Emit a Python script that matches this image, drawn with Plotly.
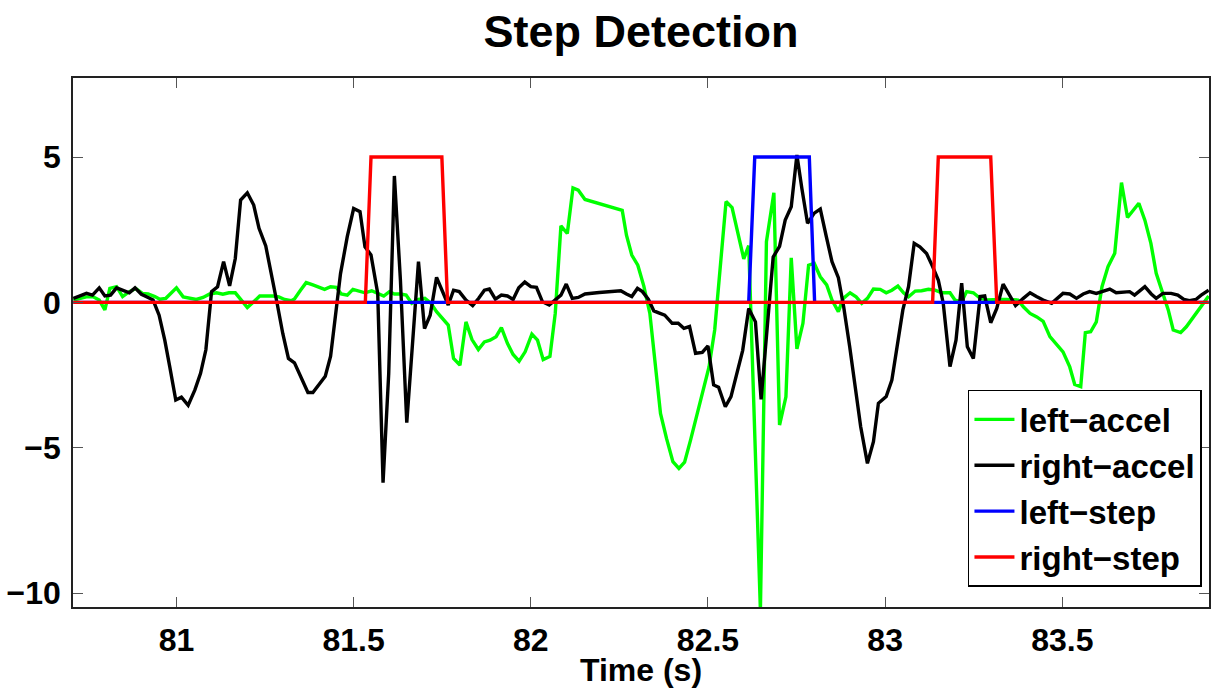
import plotly.graph_objects as go

# ---- data ----
t_left = [80.709, 80.728, 80.746, 80.765, 80.782, 80.798, 80.812, 80.831, 80.848, 80.867,
          80.885, 80.904, 80.920, 80.939, 80.953, 80.970, 80.986, 81.000, 81.019, 81.038,
          81.056, 81.075, 81.094, 81.113, 81.131, 81.148, 81.166, 81.183, 81.200, 81.218,
          81.235, 81.254, 81.272, 81.289, 81.305, 81.324, 81.333, 81.350, 81.366, 81.385,
          81.401, 81.418, 81.435, 81.451, 81.465, 81.482, 81.498, 81.517, 81.532, 81.551,
          81.568, 81.585, 81.601, 81.615, 81.632, 81.648, 81.664, 81.683, 81.701, 81.718,
          81.734, 81.751, 81.767, 81.782, 81.800, 81.817, 81.834, 81.852, 81.869, 81.885,
          81.902, 81.917, 81.934, 81.950, 81.967, 81.984, 82.003, 82.019, 82.035, 82.054,
          82.069, 82.085, 82.103, 82.119, 82.134, 82.153, 82.193, 82.230, 82.258, 82.270,
          82.285, 82.302, 82.319, 82.336, 82.350, 82.366, 82.383, 82.401, 82.418, 82.434,
          82.451, 82.468, 82.485, 82.503, 82.519, 82.535, 82.551, 82.568, 82.585, 82.601,
          82.615, 82.648, 82.665, 82.686, 82.702, 82.720, 82.735, 82.751, 82.768, 82.784,
          82.800, 82.817, 82.835, 82.850, 82.868, 82.882, 82.901, 82.918, 82.934, 82.950,
          82.967, 82.986, 83.003, 83.019, 83.036, 83.052, 83.066, 83.085, 83.103, 83.122,
          83.141, 83.160, 83.183, 83.197, 83.216, 83.230, 83.249, 83.268, 83.286, 83.305,
          83.324, 83.343, 83.361, 83.375, 83.390, 83.409, 83.428, 83.446, 83.465, 83.484,
          83.502, 83.521, 83.535, 83.552, 83.565, 83.580, 83.596, 83.612, 83.629, 83.648,
          83.667, 83.684, 83.700, 83.716, 83.733, 83.750, 83.765, 83.784, 83.799, 83.813,
          83.834, 83.850, 83.864, 83.881, 83.897, 83.913]
left_accel = [0.08, 0.14, 0.19, 0.19, 0.08, -0.26, 0.48, 0.54, 0.20, 0.37,
              0.48, 0.31, 0.29, 0.20, 0.11, 0.14, 0.33, 0.50, 0.19, 0.14,
              0.10, 0.17, 0.29, 0.33, 0.28, 0.33, 0.33, 0.08, -0.18, 0.02,
              0.22, 0.22, 0.22, 0.19, 0.10, 0.06, 0.12, 0.42, 0.68, 0.60,
              0.52, 0.45, 0.54, 0.52, 0.29, 0.25, 0.45, 0.37, 0.33, 0.40,
              0.31, 0.22, 0.37, 0.29, 0.29, 0.25, -0.03, 0.10, 0.14, -0.03,
              -0.32, -0.55, -0.78, -1.93, -2.16, -0.67, -1.28, -1.62, -1.36, -1.30,
              -1.18, -0.87, -1.41, -1.79, -2.02, -1.70, -1.09, -1.30, -1.97, -1.86,
              -0.38, 2.63, 2.37, 3.94, 3.86, 3.54, 3.40, 3.26, 3.17, 2.31,
              1.63, 1.28, 0.56, -0.38, -1.87, -3.82, -4.68, -5.48, -5.71, -5.50,
              -4.73, -3.93, -3.13, -2.22, -0.95, 1.23, 3.47, 3.26, 2.38, 1.50,
              1.95, -10.6, 2.09, 3.77, -4.22, -3.25, 1.53, -1.60, -0.72, 1.28,
              1.34, 0.88, 0.60, 0.08, -0.32, 0.14, 0.33, 0.19, -0.03, 0.14,
              0.46, 0.45, 0.33, 0.42, 0.56, 0.33, 0.19, 0.39, 0.40, 0.45,
              0.42, 0.33, 0.33, 0.08, 0.02, 0.37, 0.33, 0.14, 0.08, 0.10,
              0.10, 0.10, 0.10, 0.08, -0.15, -0.38, -0.50, -0.65, -1.18, -1.43,
              -1.70, -2.22, -2.82, -2.90, -1.04, -1.01, -0.67, 0.54, 1.23, 1.69,
              4.12, 2.92, 3.18, 3.41, 2.83, 2.03, 1.00, 0.31, -0.26, -0.95,
              -1.04, -0.84, -0.61, -0.32, -0.03, 0.22]

t_right = [80.709, 80.728, 80.746, 80.763, 80.782, 80.798, 80.814, 80.831, 80.848, 80.867,
           80.883, 80.901, 80.920, 80.934, 80.951, 80.967, 80.981, 80.998, 81.014, 81.033,
           81.052, 81.068, 81.083, 81.099, 81.116, 81.133, 81.150, 81.166, 81.181, 81.200,
           81.218, 81.233, 81.252, 81.268, 81.284, 81.300, 81.316, 81.333, 81.352, 81.371,
           81.385, 81.404, 81.420, 81.435, 81.448, 81.463, 81.482, 81.500, 81.518, 81.532,
           81.549, 81.568, 81.583, 81.599, 81.615, 81.632, 81.650, 81.667, 81.683, 81.700,
           81.716, 81.734, 81.751, 81.767, 81.782, 81.798, 81.817, 81.836, 81.853, 81.869,
           81.883, 81.900, 81.917, 81.934, 81.950, 81.966, 81.983, 82.000, 82.016, 82.033,
           82.052, 82.069, 82.085, 82.100, 82.117, 82.134, 82.153, 82.193, 82.230, 82.254,
           82.270, 82.285, 82.301, 82.315, 82.332, 82.347, 82.361, 82.378, 82.399, 82.416,
           82.432, 82.448, 82.465, 82.484, 82.500, 82.516, 82.530, 82.549, 82.565, 82.581,
           82.598, 82.615, 82.634, 82.650, 82.667, 82.684, 82.702, 82.718, 82.735, 82.751,
           82.765, 82.781, 82.800, 82.817, 82.834, 82.850, 82.868, 82.883, 82.900, 82.916,
           82.931, 82.950, 82.967, 82.981, 83.003, 83.019, 83.035, 83.050, 83.066, 83.082,
           83.098, 83.117, 83.134, 83.150, 83.164, 83.183, 83.200, 83.216, 83.232, 83.249,
           83.268, 83.281, 83.298, 83.315, 83.333, 83.352, 83.368, 83.390, 83.409, 83.427,
           83.446, 83.470, 83.486, 83.502, 83.521, 83.540, 83.559, 83.577, 83.596, 83.615,
           83.634, 83.652, 83.671, 83.690, 83.704, 83.719, 83.733, 83.751, 83.765, 83.784,
           83.807, 83.826, 83.843, 83.859, 83.877, 83.892, 83.906, 83.913]
right_accel = [0.14, 0.22, 0.31, 0.25, 0.50, 0.22, 0.25, 0.50, 0.42, 0.33,
               0.50, 0.28, 0.17, 0.08, -0.44, -1.30, -2.21, -3.36, -3.26, -3.54,
               -3.01, -2.44, -1.63, 0.37, 0.54, 1.40, 0.57, 1.51, 3.52, 3.77,
               3.35, 2.55, 1.94, 1.00, -0.03, -1.07, -1.93, -2.08, -2.56, -3.10,
               -3.10, -2.79, -2.54, -1.85, -0.49, 0.99, 2.26, 3.23, 3.12, 1.91,
               1.63, 0.31, -6.20, -2.45, 4.35, 0.77, -4.14, -1.30, 1.40, -0.90,
               -0.44, 0.86, 0.37, -0.09, 0.42, 0.37, 0.08, -0.11, 0.14, 0.42,
               0.46, 0.11, 0.25, 0.22, 0.10, 0.50, 0.70, 0.54, 0.52, 0.02,
               -0.09, 0.08, 0.25, 0.63, 0.14, 0.17, 0.29, 0.34, 0.39, 0.40,
               0.29, 0.20, 0.48, 0.37, 0.10, -0.29, -0.36, -0.44, -0.72, -0.72,
               -0.89, -0.83, -1.75, -1.72, -1.50, -2.84, -2.92, -3.59, -3.24, -2.44,
               -1.65, -0.21, -0.67, -3.34, -0.84, 1.56, 1.93, 2.83, 3.29, 5.07,
               3.92, 2.72, 3.07, 3.21, 2.26, 1.40, 0.85, -0.15, -1.53, -3.02,
               -4.28, -5.54, -4.79, -3.47, -3.24, -2.67, -1.41, -0.26, 0.54, 2.03,
               1.91, 1.68, 1.23, 0.77, -0.03, -2.21, -1.30, 0.66, -1.53, -1.93,
               0.20, 0.22, -0.70, -0.21, 0.63, 0.20, -0.11, 0.14, 0.33, 0.20,
               0.08, -0.03, 0.14, 0.31, 0.29, 0.14, 0.29, 0.37, 0.31, 0.37,
               0.46, 0.33, 0.34, 0.37, 0.25, 0.42, 0.54, 0.29, 0.14, 0.31,
               0.31, 0.25, 0.10, 0.06, 0.10, 0.25, 0.37, 0.42]

t_left_step = [80.709, 82.615, 82.632, 82.786, 82.801, 83.913]
left_step = [0, 0, 5, 5, 0, 0]

t_right_step = [80.709, 81.533, 81.549, 81.749, 81.765, 83.134, 83.150, 83.298, 83.315, 83.913]
right_step = [0, 0, 5, 5, 0, 0, 5, 5, 0, 0]

x_ticks = [81, 81.5, 82, 82.5, 83, 83.5]
x_tick_text = ["81", "81.5", "82", "82.5", "83", "83.5"]
y_ticks = [-10, -5, 0, 5]
y_tick_text = ["\u221210", "\u22125", "0", "5"]

FONT = "Liberation Sans, Arial, Helvetica, sans-serif"
LW = 3.4

fig = go.Figure()
fig.add_trace(go.Scatter(x=t_left, y=left_accel, mode="lines", name="left\u2212accel",
                         line=dict(color="#00FF00", width=LW)))
fig.add_trace(go.Scatter(x=t_right, y=right_accel, mode="lines", name="right\u2212accel",
                         line=dict(color="#000000", width=LW)))
fig.add_trace(go.Scatter(x=t_left_step, y=left_step, mode="lines", name="left\u2212step",
                         line=dict(color="#0000FF", width=LW)))
fig.add_trace(go.Scatter(x=t_right_step, y=right_step, mode="lines", name="right\u2212step",
                         line=dict(color="#FF0000", width=LW)))

axis_common = dict(
    showgrid=False, zeroline=False, showline=True, linecolor="#222222", linewidth=1.5,
    mirror="allticks", ticks="inside", ticklen=10, tickwidth=1, tickcolor="#555555",
    tickfont=dict(family=FONT, size=32, color="black", weight="bold"),
)

fig.update_layout(
    width=1217, height=688, autosize=False,
    margin=dict(l=73, r=6, t=78, b=81, pad=0),
    paper_bgcolor="white", plot_bgcolor="white",
    font=dict(family=FONT, color="black"),
    title=dict(text="Step Detection", x=0.5, xref="paper", xanchor="center",
               y=1 - 31 / 688, yref="container", yanchor="middle",
               font=dict(family=FONT, size=45, color="black", weight="bold")),
    xaxis=dict(range=[80.708, 83.914], tickvals=x_ticks, ticktext=x_tick_text,
               ticklabelstandoff=4,
               title=dict(text="Time (s)", standoff=0,
                          font=dict(family=FONT, size=32, color="black", weight="bold")),
               **axis_common),
    yaxis=dict(range=[-10.48, 7.72], tickvals=y_ticks, ticktext=y_tick_text,
               ticklabelstandoff=4, **axis_common),
    legend=dict(x=0.9938, y=0.038, xanchor="right", yanchor="bottom",
                bgcolor="white", bordercolor="black", borderwidth=1.5,
                font=dict(family=FONT, size=33, color="black", weight="bold"),
                tracegroupgap=0, itemwidth=40),
    showlegend=True,
)

fig.write_html("out.html")
